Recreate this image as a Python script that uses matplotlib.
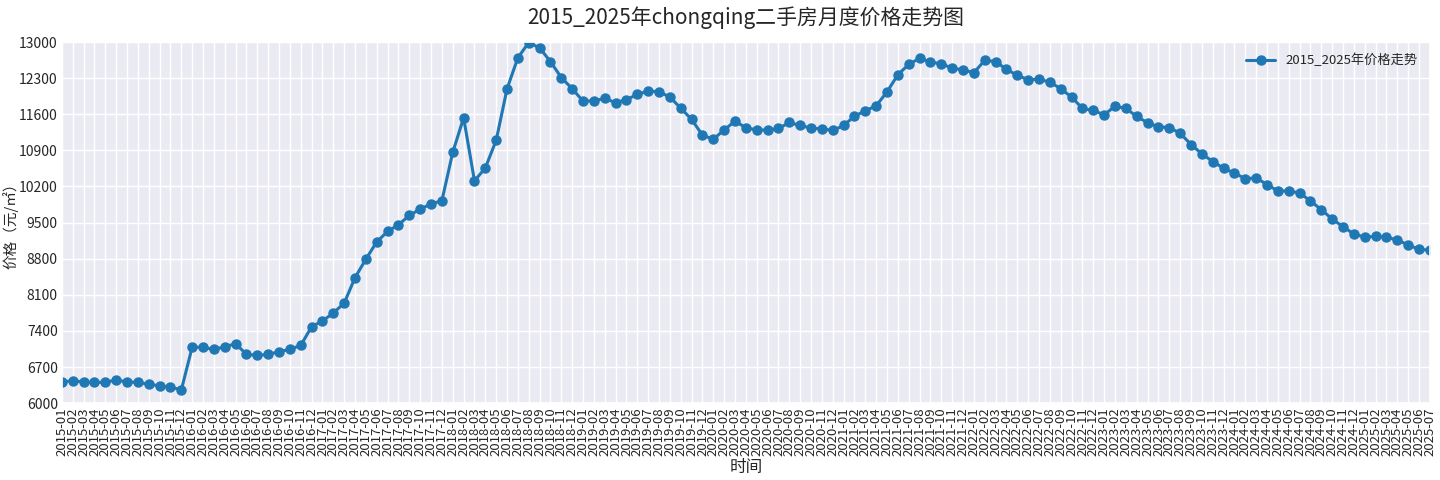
import matplotlib
matplotlib.use("Agg")
import matplotlib.pyplot as plt
import seaborn as sns

sns.set_theme(style="darkgrid")
plt.rcParams['font.family'] = ['Noto Sans CJK SC', 'DejaVu Sans']
plt.rcParams['axes.unicode_minus'] = False

years = list(range(2015, 2026))
months = [f"{y}-{m:02d}" for y in years for m in range(1, 13)][:127]

prices_2015 = [6414, 6433, 6414, 6402, 6408, 6447, 6414, 6402, 6369, 6336, 6311, 6259]
prices_2016 = [7088, 7082, 7043, 7094, 7152, 6946, 6927, 6946, 6997, 7043, 7121, 7483]
prices_2017 = [7593, 7749, 7940, 8435, 8792, 9128, 9329, 9458, 9639, 9763, 9860, 9925]
prices_2018 = [10864, 11531, 10308, 10560, 11097, 12094, 12697, 12989, 12885, 12620, 12309, 12094]
prices_2019 = [11854, 11860, 11907, 11823, 11884, 11984, 12049, 12036, 11932, 11718, 11499, 11194]
prices_2020 = [11116, 11298, 11466, 11337, 11298, 11291, 11324, 11440, 11382, 11330, 11317, 11285]
prices_2021 = [11382, 11563, 11667, 11764, 12036, 12367, 12567, 12684, 12615, 12574, 12496, 12457]
prices_2022 = [12406, 12645, 12620, 12470, 12353, 12270, 12276, 12224, 12094, 11932, 11712, 11673]
prices_2023 = [11589, 11757, 11712, 11557, 11434, 11356, 11343, 11230, 11013, 10832, 10683, 10553]
prices_2024 = [10456, 10352, 10366, 10236, 10113, 10113, 10074, 9919, 9750, 9569, 9420, 9278]
prices_2025 = [9219, 9232, 9219, 9161, 9070, 8979, 8967]

prices = (prices_2015 + prices_2016 + prices_2017 + prices_2018 + prices_2019 + prices_2020
          + prices_2021 + prices_2022 + prices_2023 + prices_2024 + prices_2025)

y_ticks = list(range(6000, 13001, 700))

fig = plt.figure(figsize=(14.4, 4.8), dpi=100)
ax = fig.add_axes([0.043, 0.16, 0.95, 0.7525])

x = list(range(len(months)))
ax.plot(x, prices, marker='o', color='#1f77b4', linewidth=2.2, markersize=6.5,
        label='2015_2025年价格走势')

ax.set_xlim(0, len(months) - 1)
ax.set_ylim(6000, 13000)
ax.set_yticks(y_ticks)
ax.set_yticklabels([str(v) for v in y_ticks], fontsize=10)
ax.set_xticks(x)
ax.set_xticklabels(months, rotation=90, fontsize=9.5)
ax.tick_params(axis='x', length=0, pad=3)
ax.tick_params(axis='y', length=0, pad=3)

ax.set_title('2015_2025年chongqing二手房月度价格走势图', fontsize=15, pad=13)
ax.set_xlabel('时间', fontsize=12, va='center')
ax.xaxis.set_label_coords(0.5, -0.177)
ax.set_ylabel('价格（元/㎡）', fontsize=10.5, va='center')
ax.yaxis.set_label_coords(-0.0375, 0.5)
ax.legend(loc='upper right', fontsize=9.5, frameon=False, borderaxespad=0.5,
          handlelength=2.2)

fig.savefig('out.png', dpi=100)
